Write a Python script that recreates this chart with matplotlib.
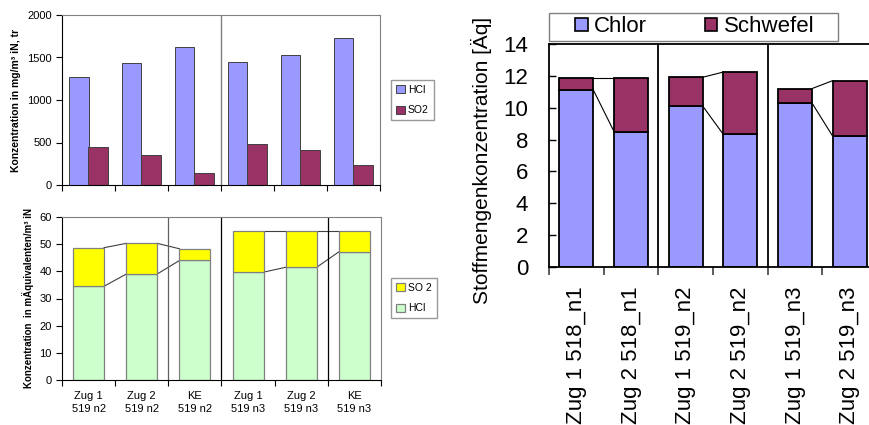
import numpy as np
import matplotlib
matplotlib.use("Agg")
import matplotlib.pyplot as plt
from matplotlib.patches import Patch, Rectangle

plt.rcParams['font.family'] = ['Liberation Sans', 'DejaVu Sans']

# top-left: concentration in mg/m3
cats_a = ["Zug 1\n519 n2", "Zug 2\n519 n2", "KE\n519 n2", "Zug 1\n519 n3", "Zug 2\n519 n3", "KE\n519 n3"]
hcl_mg = [1270, 1440, 1620, 1450, 1530, 1730]
so2_mg = [445, 355, 140, 480, 415, 235]

# bottom-left: concentration in milli-equivalents
hcl_eq = [34.5, 39.0, 44.0, 39.7, 41.5, 47.2]
so2_eq = [14.2, 11.3, 4.3, 15.0, 13.2, 7.5]

# right: Stoffmengenkonzentration
cats_b = ["Zug 1 518_n1", "Zug 2 518_n1", "Zug 1 519_n2", "Zug 2 519_n2", "Zug 1 519_n3", "Zug 2 519_n3"]
chlor = [11.12, 8.50, 10.11, 8.32, 10.30, 8.21]
schwefel = [0.75, 3.37, 1.80, 3.92, 0.90, 3.49]

W, H = 870, 425
fig = plt.figure(figsize=(W / 100, H / 100), dpi=100)

def fx(px):
    return px / W

def fy(py):
    return 1 - py / H

def style_left(ax, n):
    ax.set_xlim(-0.5, n - 0.5)
    for s in ['top', 'right']:
        ax.spines[s].set_color('#808080')
    for s in ['left', 'bottom']:
        ax.spines[s].set_color('#000000')
    for s in ax.spines.values():
        s.set_linewidth(0.8)
    ax.set_xticks(np.arange(n + 1) - 0.5)
    ax.set_xticklabels([''] * (n + 1))
    ax.tick_params(axis='x', which='major', length=4, direction='out', width=0.8)
    ax.tick_params(axis='y', length=4, direction='out', labelsize=8, width=0.8, colors='#000000')

def connectors(ax, x, vals, width, color, skip=()):
    for i in range(len(vals) - 1):
        if i in skip:
            continue
        ax.plot([x[i] + width / 2, x[i + 1] - width / 2], [vals[i], vals[i + 1]],
                color=color, lw=0.8, zorder=1)

# ---- top-left
n = len(hcl_mg)
x = np.arange(n)
ax1 = fig.add_axes([fx(62), fy(185), fx(380 - 62), fy(15) - fy(185)])
bw = 0.375
ax1.bar(x - bw / 2, hcl_mg, bw, color='#9999FF', edgecolor='#404040', lw=0.7, label='HCl')
ax1.bar(x + bw / 2, so2_mg, bw, color='#993366', edgecolor='#404040', lw=0.7, label='SO2')
ax1.set_ylim(0, 2000)
ax1.set_yticks([0, 500, 1000, 1500, 2000])
style_left(ax1, n)
ax1.axvline(2.5, color='#808080', lw=1)
ax1.set_ylabel("Konzentration in mg/m³ iN, tr", fontsize=7.5, fontweight='bold', labelpad=4)
ax1.legend(loc='center left', bbox_to_anchor=(fx(391), fy(100)), bbox_transform=fig.transFigure,
           fontsize=7.5, frameon=True, fancybox=False, edgecolor='#808080', handlelength=0.8,
           handleheight=0.8, handletextpad=0.3, borderpad=0.5, labelspacing=1.0, borderaxespad=0)

# ---- bottom-left
ax2 = fig.add_axes([fx(62), fy(380), fx(381 - 62), fy(217) - fy(380)])
bw2 = 0.58
tot_eq = [a + b for a, b in zip(hcl_eq, so2_eq)]
ax2.bar(x, hcl_eq, bw2, color='#CCFFCC', edgecolor='#808080', lw=0.9, label='HCl', zorder=2)
ax2.bar(x, so2_eq, bw2, bottom=hcl_eq, color='#FFFF00', edgecolor='#808080', lw=0.9, label='SO 2', zorder=2)
connectors(ax2, x, hcl_eq, bw2, '#404040', skip=(2,))
connectors(ax2, x, tot_eq, bw2, '#404040', skip=(2,))
ax2.set_ylim(0, 60)
ax2.set_yticks(range(0, 61, 10))
style_left(ax2, n)
ax2.set_xticks(x, minor=True)
ax2.set_xticklabels(cats_a, minor=True, fontsize=8, linespacing=1.3)
ax2.tick_params(axis='x', which='minor', length=0, pad=8)
for b, c in [(1.5, '#606060'), (2.5, '#000000'), (4.5, '#000000')]:
    ax2.axvline(b, color=c, lw=0.9)
ax2.set_ylabel("Konzentration  in mÄquivalenten/m³ iN", fontsize=7, fontweight='bold', labelpad=4)
h, l = ax2.get_legend_handles_labels()
ax2.legend(h[::-1], l[::-1], loc='center left', bbox_to_anchor=(fx(391), fy(298)), bbox_transform=fig.transFigure,
           fontsize=7.5, frameon=True, fancybox=False, edgecolor='#808080', handlelength=0.8,
           handleheight=0.8, handletextpad=0.3, borderpad=0.5, labelspacing=1.0, borderaxespad=0)

# ---- right
ax3 = fig.add_axes([fx(549), fy(267), fx(877 - 549), fy(44) - fy(267)])
bw3 = 0.62
tot_b = [a + b for a, b in zip(chlor, schwefel)]
ax3.bar(x, chlor, bw3, color='#9999FF', edgecolor='black', lw=1.3, zorder=2)
ax3.bar(x, schwefel, bw3, bottom=chlor, color='#993366', edgecolor='black', lw=1.3, zorder=2)
connectors(ax3, x, chlor, bw3, 'black', skip=(1, 3))
connectors(ax3, x, tot_b, bw3, 'black', skip=(1, 3))
ax3.set_xlim(-0.5, n - 0.5)
ax3.set_ylim(0, 14)
ax3.set_yticks(range(0, 15, 2))
for s in ax3.spines.values():
    s.set_linewidth(1.3)
ax3.set_xticks(np.arange(n + 1) - 0.5)
ax3.set_xticklabels([''] * (n + 1))
ax3.tick_params(axis='x', which='major', length=6, direction='out', width=1.2, color='#404040')
ax3.set_xticks(x, minor=True)
ax3.set_xticklabels(cats_b, minor=True, rotation=90, fontsize=16)
ax3.tick_params(axis='x', which='minor', length=0, pad=14)
ax3.tick_params(axis='y', length=5, direction='in', width=1, labelsize=16, pad=15)
for b in [1.5, 3.5]:
    ax3.axvline(b, color='black', lw=1.3)
ax3.set_ylabel("Stoffmengenkonzentration [Äq]", fontsize=15, labelpad=8)
ax3.yaxis.label.set_y(0.48)

# legend frame drawn as a plain box, entries centred inside it
fig.patches.append(Rectangle((fx(549), fy(41)), fx(838 - 549), fy(13) - fy(41),
                             transform=fig.transFigure, facecolor='white',
                             edgecolor='#808080', lw=1))
handles = [Patch(facecolor='#9999FF', edgecolor='black', lw=1.2, label='Chlor'),
           Patch(facecolor='#993366', edgecolor='black', lw=1.2, label='Schwefel')]
fig.legend(handles=handles, loc='center', ncol=2,
           bbox_to_anchor=(fx(695), fy(27)), frameon=False,
           fontsize=16, handlelength=0.55, handleheight=0.55, handletextpad=0.3,
           columnspacing=2.6, borderpad=0, borderaxespad=0)

fig.savefig("out.png", dpi=100)
